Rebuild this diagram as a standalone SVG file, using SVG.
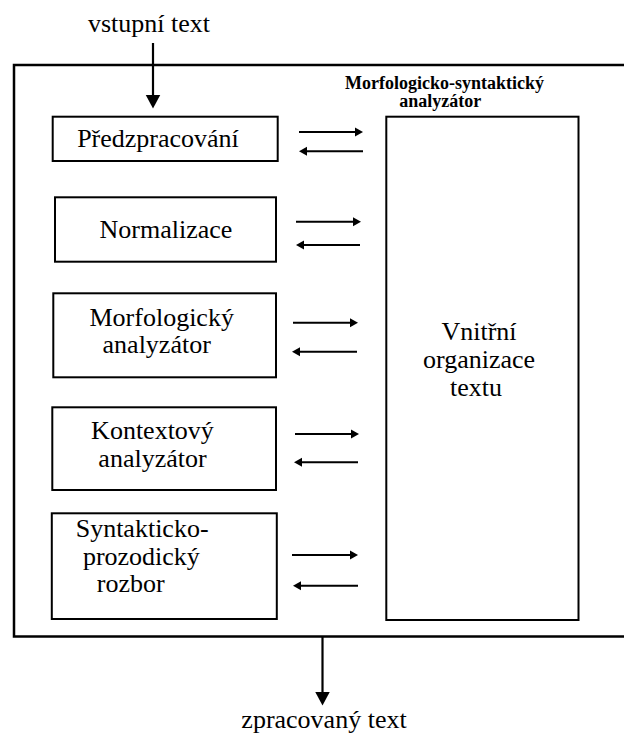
<svg xmlns="http://www.w3.org/2000/svg" width="624" height="733" viewBox="0 0 624 733">
  <defs>
    <style>
      .box { fill: #ffffff; stroke: #000000; stroke-width: 2; }
      .frame { fill: none; stroke: #000000; stroke-width: 2.5; }
      .lbl { font-family: 'Liberation Serif', 'DejaVu Serif', serif; font-size: 26px; fill: #000000; }
      .mid { text-anchor: middle; }
      .ttl { font-family: 'Liberation Serif', 'DejaVu Serif', serif; font-size: 18px; font-weight: bold; fill: #000000; text-anchor: middle; }
      .conn { stroke: #000000; stroke-width: 2; fill: none; }
      .vconn { stroke: #000000; stroke-width: 2.2; fill: none; }
    </style>
    <marker id="ah" markerUnits="userSpaceOnUse" markerWidth="10" markerHeight="10" refX="0.5" refY="5" orient="auto">
      <path d="M0,0.5 L8,5 L0,9.5 z" fill="#000000"/>
    </marker>
    <marker id="av" markerUnits="userSpaceOnUse" markerWidth="16" markerHeight="16" refX="0.5" refY="8" orient="auto">
      <path d="M0,0.5 L14,8 L0,15.5 z" fill="#000000"/>
    </marker>
  </defs>

  <g id="frame">
    <rect class="frame" x="14" y="65" width="630" height="571.5"/>
    <text class="ttl" x="444.5" y="88.5">Morfologicko-syntaktický</text>
    <text class="ttl" x="440.3" y="107">analyzátor</text>
  </g>

  <g id="input">
    <text class="lbl mid" x="149" y="31.7">vstupní text</text>
  </g>

  <g id="output">
    <text class="lbl mid" x="324" y="727.5">zpracovaný text</text>
  </g>

  <g id="predzpracovani">
    <rect class="box" x="52.7" y="116.7" width="225" height="44.3"/>
    <text class="lbl mid" x="158" y="146.7">Předzpracování</text>
  </g>

  <g id="normalizace">
    <rect class="box" x="55" y="197.3" width="221" height="64.4"/>
    <text class="lbl mid" x="166" y="237.5">Normalizace</text>
  </g>

  <g id="morfologicky">
    <rect class="box" x="53.3" y="293.3" width="222.7" height="84"/>
    <text class="lbl mid" x="161.7" y="325.7">Morfologický</text>
    <text class="lbl mid" x="156.7" y="353">analyzátor</text>
  </g>

  <g id="kontextovy">
    <rect class="box" x="52.3" y="407.3" width="223.7" height="82.7"/>
    <text class="lbl mid" x="152.5" y="439.3">Kontextový</text>
    <text class="lbl mid" x="152.5" y="467">analyzátor</text>
  </g>

  <g id="syntakticko">
    <rect class="box" x="51.8" y="513.3" width="225" height="105.7"/>
    <text class="lbl" x="75.7" y="536.7">Syntakticko-</text>
    <text class="lbl" x="82.9" y="565">prozodický</text>
    <text class="lbl" x="96.8" y="592">rozbor</text>
  </g>

  <g id="vnitrni">
    <rect class="box" x="386.3" y="116.7" width="192.2" height="503.3"/>
    <text class="lbl mid" x="479" y="340">Vnitřní</text>
    <text class="lbl mid" x="479" y="368.3">organizace</text>
    <text class="lbl mid" x="476" y="396">textu</text>
  </g>

  <g id="connectors">
    <line class="vconn" x1="153" y1="43" x2="153" y2="95" marker-end="url(#av)"/>
    <line class="vconn" x1="322.5" y1="637" x2="322.5" y2="692" marker-end="url(#av)"/>

    <line class="conn" x1="299" y1="132" x2="355.5" y2="132" marker-end="url(#ah)"/>
    <line class="conn" x1="363" y1="151.3" x2="306.5" y2="151.3" marker-end="url(#ah)"/>

    <line class="conn" x1="296" y1="221.7" x2="353.5" y2="221.7" marker-end="url(#ah)"/>
    <line class="conn" x1="360" y1="245" x2="303.5" y2="245" marker-end="url(#ah)"/>

    <line class="conn" x1="293" y1="322.7" x2="350.5" y2="322.7" marker-end="url(#ah)"/>
    <line class="conn" x1="357" y1="351.7" x2="299.5" y2="351.7" marker-end="url(#ah)"/>

    <line class="conn" x1="295" y1="434" x2="351.5" y2="434" marker-end="url(#ah)"/>
    <line class="conn" x1="358" y1="462.3" x2="301.5" y2="462.3" marker-end="url(#ah)"/>

    <line class="conn" x1="292" y1="555" x2="350.5" y2="555" marker-end="url(#ah)"/>
    <line class="conn" x1="358" y1="585.7" x2="300.5" y2="585.7" marker-end="url(#ah)"/>
  </g>
</svg>
